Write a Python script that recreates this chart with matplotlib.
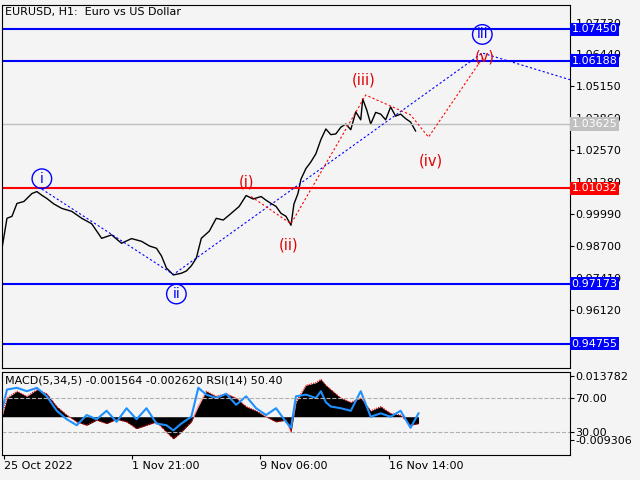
import matplotlib
matplotlib.use("Agg")
import matplotlib.pyplot as plt
import matplotlib.transforms as mtrans

BG = '#f4f4f4'

# price path (bar position, close)
px = [0, 5, 10, 15, 22, 30, 35, 40, 45, 52, 60, 70, 80, 90, 100, 110, 120, 130, 140, 148, 155, 160, 165, 172, 180, 185, 190,
      195, 200, 208, 215, 222, 230, 238, 245, 252, 260, 265, 270, 275, 280, 285, 290, 293, 297, 300, 305, 310, 315,
      320, 325, 330, 335, 340, 345, 350, 355, 360, 362, 366, 370, 375, 380, 385, 390, 395, 400, 405, 410, 415]
price = [0.9861, 0.9982, 0.9990, 1.0042, 1.0050, 1.0082, 1.0090, 1.0075, 1.0062, 1.0040, 1.0022, 1.0010, 0.9982, 0.9960,
         0.9901, 0.9915, 0.9881, 0.9900, 0.9889, 0.9870, 0.9861, 0.9830, 0.9781, 0.9753, 0.9760, 0.9769, 0.9790,
         0.9821, 0.9901, 0.9930, 0.9982, 0.9975, 1.0002, 1.0030, 1.0074, 1.0060, 1.0070, 1.0055, 1.0042, 1.0030, 1.0002,
         0.9990, 0.9954, 1.0040, 1.0082, 1.0140, 1.0183, 1.0210, 1.0243, 1.0300, 1.0343, 1.0320, 1.0323, 1.0350, 1.0363,
         1.0340, 1.0412, 1.0380, 1.0464, 1.0420, 1.0363, 1.0410, 1.0403, 1.0380, 1.0432, 1.0395, 1.0403, 1.0385, 1.0371, 1.0335]

# horizontal levels
blue_levels = [1.07450, 1.06188, 0.97173, 0.94755]
red_level = 1.01032
last_price = 1.03625
yticks = [1.07730, 1.06440, 1.05150, 1.03860, 1.02570, 1.01280, 0.99990, 0.98700, 0.97410, 0.96120]

# wave forecast paths
blue_wave_x = [40, 172, 482, 570]
blue_wave_y = [1.0100, 0.9755, 1.0650, 1.0542]
red_wave_x = [250, 290, 365, 410, 428, 484]
red_wave_y = [1.0070, 0.9960, 1.0480, 1.0400, 1.0310, 1.0640]
blue_labels = [('i', 40, 1.0142), ('ii', 175, 0.9676), ('iii', 482, 1.0725)]
red_labels = [('(i)', 245, 1.0130), ('(ii)', 288, 0.9873), ('(iii)', 363, 1.0540), ('(iv)', 430, 1.0215), ('(v)', 484, 1.0632)]

# indicator panel (MACD histogram + RSI)
ix = [0, 5, 15, 25, 35, 45, 55, 65, 75, 85, 95, 105, 115, 125, 135, 145, 155, 165, 172, 180, 190, 197, 205, 215, 225,
      235, 245, 255, 265, 275, 285, 290, 295, 305, 315, 320, 325, 330, 340, 350, 360, 370, 380, 390, 400, 410, 418]
macd = [48, 70, 78, 72, 80, 75, 60, 50, 42, 38, 44, 40, 45, 42, 34, 38, 42, 30, 22, 30, 42, 60, 78, 72, 75,
        70, 60, 55, 48, 42, 44, 30, 65, 85, 88, 92, 85, 80, 70, 65, 70, 55, 60, 52, 50, 38, 40]
rsi = [55, 80, 82, 78, 82, 72, 55, 45, 38, 50, 45, 55, 42, 58, 45, 58, 40, 38, 32, 40, 48, 82, 74, 70, 75,
       62, 72, 58, 50, 58, 42, 35, 72, 74, 70, 78, 65, 60, 58, 55, 78, 48, 52, 48, 55, 35, 52]
ind_ticks = [95.5, 70, 30, 20.6]
ind_labels = ['0.013782', '70.00', '30.00', '-0.009306']

date_pos = [2, 130, 259, 388]
date_labels = ['25 Oct 2022', '1 Nov 21:00', '9 Nov 06:00', '16 Nov 14:00']

fig = plt.figure(figsize=(6.4, 4.8), dpi=100, facecolor=BG)
ax = fig.add_axes([2 / 640, 1 - 368 / 480, 568 / 640, 363 / 480], facecolor=BG)
ax2 = fig.add_axes([2 / 640, 1 - 455 / 480, 568 / 640, 83 / 480], facecolor=BG)

FS = 8
ax.plot(px, price, color='black', lw=1)
ax.set_xlim(0, 570)
ax.set_ylim(0.9377, 1.0844)
ax.set_xticks([])
ax.yaxis.tick_right()
ax.set_yticks(yticks)
ax.set_yticklabels([f'{v:.5f}' for v in yticks], fontsize=FS)
ax.tick_params(axis='y', length=3, pad=1)

tr = mtrans.blended_transform_factory(ax.transAxes, ax.transData)
for lv in blue_levels:
    ax.axhline(lv, color='#0000ff', lw=1.5)
    ax.text(1.003, lv, f'{lv:.5f}', transform=tr, color='white', fontsize=FS, va='center', ha='left',
            bbox=dict(boxstyle='square,pad=0.15', fc='#0000ff', ec='none'))
ax.axhline(red_level, color='#ff0000', lw=1.5)
ax.text(1.003, red_level, f'{red_level:.5f}', transform=tr, color='white', fontsize=FS, va='center', ha='left',
        bbox=dict(boxstyle='square,pad=0.15', fc='#ff0000', ec='none'))
ax.axhline(last_price, color='#c0c0c0', lw=1)
ax.text(1.003, last_price, f'{last_price:.5f}', transform=tr, color='white', fontsize=FS, va='center', ha='left',
        bbox=dict(boxstyle='square,pad=0.15', fc='#c0c0c0', ec='none'))

ax.plot(blue_wave_x, blue_wave_y, color='#0000ff', lw=0.8, ls=(0, (2, 2)))
ax.plot(red_wave_x, red_wave_y, color='#ff0000', lw=0.8, ls=(0, (2, 2)))
for lab, x, y in blue_labels:
    ax.text(x, y, lab, color='#0000ff', fontsize=10, ha='center', va='center',
            bbox=dict(boxstyle='circle,pad=0.2', fc='none', ec='#0000ff', lw=1))
for lab, x, y in red_labels:
    ax.text(x, y, lab, color='#e00000', fontsize=10.5, ha='center', va='center')

ax.text(0.005, 0.995, 'EURUSD, H1:  Euro vs US Dollar', transform=ax.transAxes, fontsize=FS, va='top')

ax2.fill_between(ix, 48, macd, color='black', lw=0)
ax2.plot(ix, macd, color='#ff0000', lw=0.8, ls=(0, (1, 1)))
ax2.plot(ix, rsi, color='#1e90ff', lw=1.5)
for lv in (70, 30):
    ax2.axhline(lv, color='#b0b0b0', lw=0.8, ls='--')
ax2.set_xlim(0, 570)
ax2.set_ylim(3, 100.6)
ax2.yaxis.tick_right()
ax2.set_yticks(ind_ticks)
ax2.set_yticklabels(ind_labels, fontsize=FS)
ax2.tick_params(axis='y', length=3, pad=1)
ax2.set_xticks(date_pos)
ax2.set_xticklabels(date_labels, fontsize=FS, ha='left')
ax2.tick_params(axis='x', length=3, pad=1)
ax2.text(0.005, 0.96, 'MACD(5,34,5) -0.001564 -0.002620 RSI(14) 50.40', transform=ax2.transAxes, fontsize=FS, va='top')

fig.savefig('out.png', dpi=100, facecolor=BG)
